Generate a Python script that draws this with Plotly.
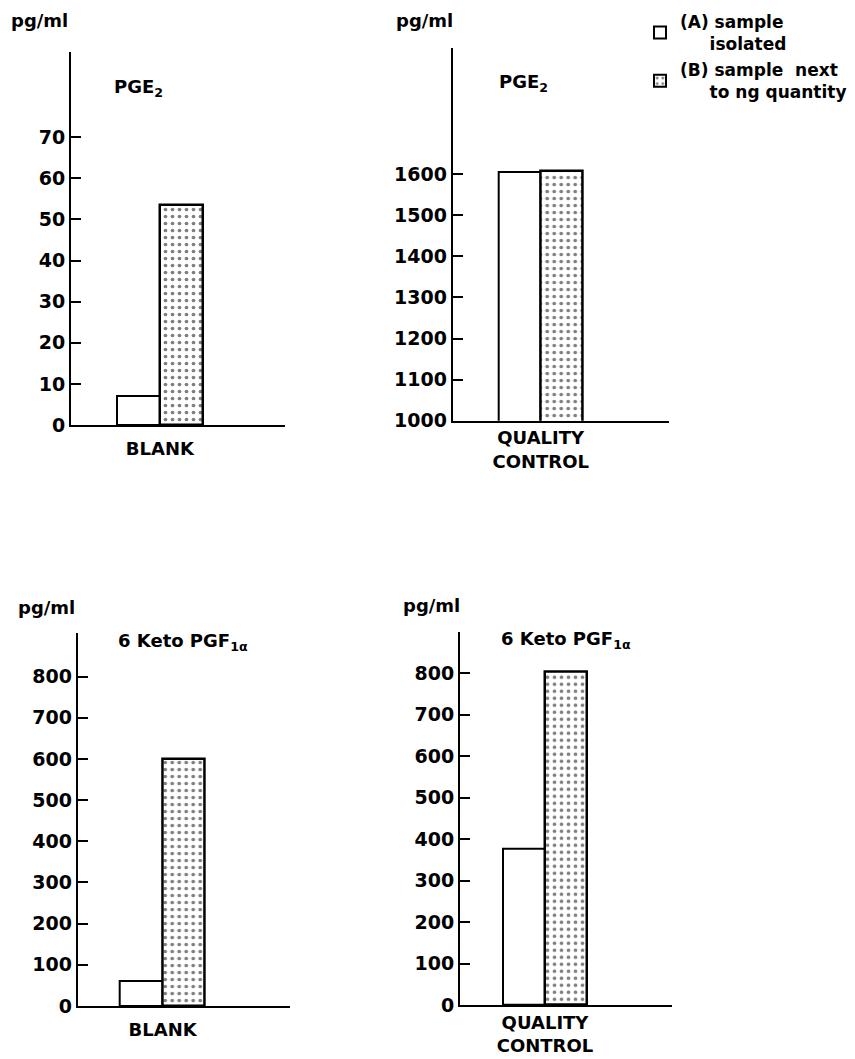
import plotly.graph_objects as go

# ---- data ----
categories = ["BLANK", "QUALITY<br>CONTROL", "BLANK", "QUALITY<br>CONTROL"]
sample_isolated = [7, 1605, 60, 378]          # (A)
sample_next_to_ng = [53.5, 1608, 601, 804]    # (B)
panel_titles = ["PGE<sub>2</sub>", "PGE<sub>2</sub>",
                "6 Keto PGF<sub>1α</sub>", "6 Keto PGF<sub>1α</sub>"]
y_ticks = [
    [0, 10, 20, 30, 40, 50, 60, 70],
    [1000, 1100, 1200, 1300, 1400, 1500, 1600],
    [0, 100, 200, 300, 400, 500, 600, 700, 800],
    [0, 100, 200, 300, 400, 500, 600, 700, 800],
]
y_unit = "pg/ml"
legend_names = ["(A) sample<br>     isolated", "(B) sample  next<br>     to ng quantity"]

# ---- layout geometry (pixels) ----
W, H = 855, 1059
geo = [
    dict(x0=71, x1=285, ytop=52, ybot=425, yr=[0, 90.7], xr=[-1.03, 1.45], so=6),
    dict(x0=452.7, x1=669, ytop=48, ybot=420.7, yr=[1000, 1907], xr=[-1.056, 1.54], so=0),
    dict(x0=77.7, x1=290, ytop=633, ybot=1006, yr=[0, 906], xr=[-1.0, 1.5], so=6),
    dict(x0=460, x1=671.7, ytop=631.7, ybot=1005, yr=[0, 900], xr=[-1.02, 1.52], so=0),
]
unit_pos = [(39, 20), (424, 20), (46, 607), (431, 605)]
title_pos = [(112, 88), (497, 83), (116, 642), (499, 640)]

FONT = "DejaVu Sans"

fig = go.Figure()
layout_axes = {}
annotations = []
for i in range(4):
    xa = "x" if i == 0 else f"x{i+1}"
    ya = "y" if i == 0 else f"y{i+1}"
    g = geo[i]
    fig.add_trace(go.Bar(
        x=[categories[i]], y=[sample_isolated[i]], name=legend_names[0],
        xaxis=xa, yaxis=ya, legendgroup="A", showlegend=(i == 0),
        marker=dict(color="white", line=dict(color="black", width=2)),
    ))
    fig.add_trace(go.Bar(
        x=[categories[i]], y=[sample_next_to_ng[i]], name=legend_names[1],
        xaxis=xa, yaxis=ya, legendgroup="B", showlegend=(i == 0),
        marker=dict(color="white", line=dict(color="black", width=2.5),
                    pattern=dict(shape=".", fgcolor="black", bgcolor="white",
                                 size=7, solidity=0.22)),
    ))
    xk = "xaxis" if i == 0 else f"xaxis{i+1}"
    yk = "yaxis" if i == 0 else f"yaxis{i+1}"
    layout_axes[xk] = dict(
        domain=[g["x0"] / W, g["x1"] / W], anchor=ya, type="category",
        range=g["xr"], showline=True, linecolor="black", linewidth=2,
        ticks="", showgrid=False, zeroline=False, ticklabelstandoff=g["so"],
        tickfont=dict(family=FONT, size=18, color="black", weight="bold"),
        fixedrange=True, automargin=False,
    )
    layout_axes[yk] = dict(
        domain=[1 - g["ybot"] / H, 1 - g["ytop"] / H], anchor=xa,
        range=g["yr"], tickvals=y_ticks[i], showline=True, linecolor="black",
        linewidth=2, ticks="inside", ticklen=10, tickwidth=2, tickcolor="black",
        showgrid=False, zeroline=False,
        tickfont=dict(family=FONT, size=19, color="black", weight="bold"),
        fixedrange=True, automargin=False,
    )
    ux, uy = unit_pos[i]
    annotations.append(dict(
        text=y_unit, x=ux / W, y=1 - uy / H, xref="paper", yref="paper",
        xanchor="center", yanchor="middle", showarrow=False,
        font=dict(family=FONT, size=18, color="black", weight="bold"),
    ))
    tx, ty = title_pos[i]
    annotations.append(dict(
        text=panel_titles[i], x=tx / W, y=1 - ty / H, xref="paper", yref="paper",
        xanchor="left", yanchor="middle", showarrow=False,
        font=dict(family=FONT, size=18, color="black", weight="bold"),
    ))

fig.update_layout(
    width=W, height=H, margin=dict(l=0, r=0, t=0, b=0, autoexpand=False),
    paper_bgcolor="white", plot_bgcolor="white",
    barmode="group", bargap=0, bargroupgap=0,
    showlegend=True,
    legend=dict(x=640 / W, y=1 - 4 / H, xanchor="left", yanchor="top",
                font=dict(family=FONT, size=17, color="black", weight="bold"),
                bgcolor="rgba(0,0,0,0)", tracegroupgap=1,
                itemsizing="constant"),
    annotations=annotations,
    font=dict(family=FONT, color="black"),
    **layout_axes,
)

post = (
    "document.documentElement.style.margin='0px';"
    "document.documentElement.style.overflow='hidden';"
    "document.body.style.margin='0px';document.body.style.padding='0px';"
    "document.body.style.overflow='hidden';"
)
fig.write_html("out.html", config={"displayModeBar": False}, post_script=post)
